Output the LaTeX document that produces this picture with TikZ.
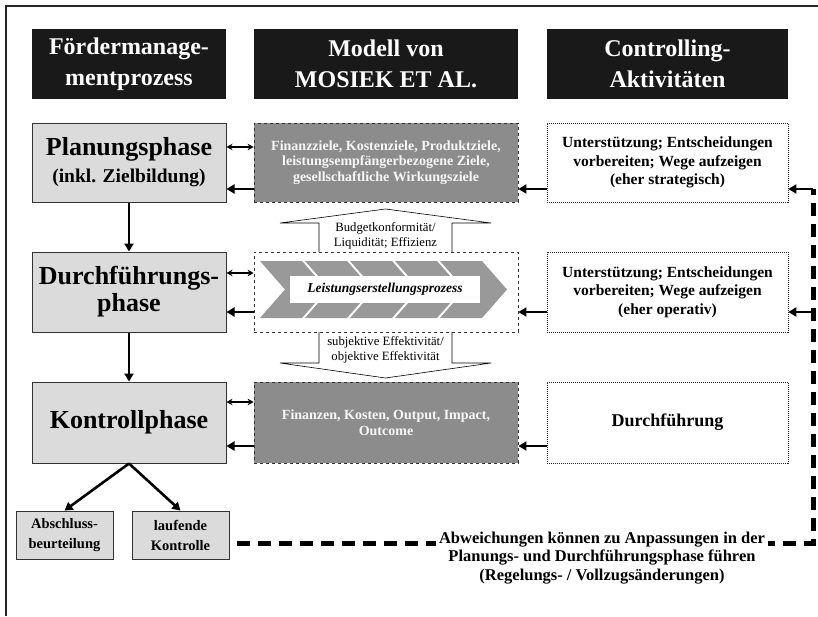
\documentclass[tikz,border=0pt]{standalone}
\usepackage{fontspec}
\setmainfont{Liberation Serif}
\usetikzlibrary{arrows.meta}
\colorlet{phasegray}{black!14}
\colorlet{modelgray}{black!45}
\colorlet{chevgray}{black!40}

\begin{document}
\begin{tikzpicture}[x=1pt,y=-1pt,
  headbox/.style={fill=black!90,text=white,align=center,inner sep=0pt,minimum height=70pt,
    font=\bfseries\fontsize{24}{31}\selectfont},
  phase/.style={draw=black!80,line width=1pt,fill=phasegray,align=center,inner sep=0pt,
    minimum width=194pt,font=\bfseries\fontsize{26}{27}\selectfont},
  model/.style={draw=black!80,dashed,line width=0.8pt,fill=modelgray,text=black!3,align=center,
    inner sep=0pt,minimum width=264pt,font=\bfseries\fontsize{14}{15.5}\selectfont},
  ctrl/.style={draw=black!85,line width=0.7pt,dash pattern=on 1pt off 1pt,align=center,
    inner sep=0pt,minimum width=241pt,font=\bfseries\fontsize{15.5}{18.5}\selectfont},
  leafbox/.style={draw=black!80,line width=0.9pt,fill=phasegray,align=center,inner sep=0pt,
    minimum width=97pt,minimum height=48pt,font=\bfseries\fontsize{14.5}{20}\selectfont},
  blockarrow/.style={draw=black,line width=0.6pt,fill=white},
  flowtext/.style={align=center,font=\fontsize{12.7}{15.5}\selectfont},
  thk/.style={line width=2.6pt,-{Triangle[length=8pt,width=9pt]}},
  twoway/.style={line width=1.3pt,{Stealth[length=6pt,width=6.5pt]}-{Stealth[length=6pt,width=6.5pt]}},
  fbline/.style={line width=5pt,dash pattern=on 13pt off 8pt}
]
\useasboundingbox (0,0) rectangle (818,616);
\draw[line width=1.3pt,black!85] (6,616) -- (6,6) -- (818,6);

% column heads
\node[headbox,minimum width=194pt] (h1) at (129,64) {Fördermanage-\\mentprozess};
\node[headbox,minimum width=264pt] (h2) at (386,64) {Modell von\\MOSIEK ET AL.};
\node[headbox,minimum width=241pt] (h3) at (667.5,64) {Controlling-\\Aktivitäten};

% block arrows in the middle column
\draw[blockarrow] (319,252) -- (319,223) -- (280,223) -- (385.5,209) -- (491,223) -- (452,223) -- (452,252);
\node[flowtext] (budget) at (385.5,236) {Budgetkonformität/\\Liquidität; Effizienz};
\draw[blockarrow] (319,332) -- (319,363) -- (280,363) -- (385.5,378) -- (491,363) -- (452,363) -- (452,332);
\node[flowtext] (effekt) at (385.5,350) {subjektive Effektivität/\\objektive Effektivität};

% Planungsphase
\node[phase,minimum height=79pt] (plan) at (129,162.5)
  {Planungsphase\\{\fontsize{19.5}{25}\selectfont(inkl. Zielbildung)}};
\node[model,minimum height=79pt] (ziel) at (386,162.5)
  {Finanzziele, Kostenziele, Produktziele,\\leistungsempfängerbezogene Ziele,\\gesellschaftliche Wirkungsziele};
\node[ctrl,minimum height=79pt] (strat) at (667.5,162.5)
  {Unterstützung; Entscheidungen\\vorbereiten; Wege aufzeigen\\(eher strategisch)};

% Durchfuehrungsphase
\node[phase,minimum height=80pt] (durch) at (129,292) {Durchführungs-\\phase};
\node[draw=black!80,dashed,line width=0.8pt,fill=white,minimum width=264pt,minimum height=80pt,
  inner sep=0pt] (leist) at (386,292) {};
\foreach \i in {0,...,4}
  \fill[chevgray] ({260+45*\i},261) -- ({302+45*\i},261) -- ({327+45*\i},289.5)
    -- ({302+45*\i},318) -- ({260+45*\i},318) -- ({285+45*\i},289.5) -- cycle;
\node[fill=white,minimum width=190pt,minimum height=27pt,inner sep=0pt,
  font=\bfseries\itshape\fontsize{13.5}{15}\selectfont] (proc) at (385,289.5) {Leistungserstellungsprozess};
\node[ctrl,minimum height=80pt] (oper) at (667.5,292)
  {Unterstützung; Entscheidungen\\vorbereiten; Wege aufzeigen\\(eher operativ)};

% Kontrollphase
\node[phase,minimum height=81pt] (kontr) at (129,422.5) {Kontrollphase};
\node[model,minimum height=81pt] (wirk) at (386,422.5) {Finanzen, Kosten, Output, Impact,\\Outcome};
\node[ctrl,minimum height=81pt,font=\bfseries\fontsize{18}{20}\selectfont] (durchf) at (667.5,422.5) {Durchführung};

\node[leafbox] (absch) at (64.5,535) {Abschluss-\\beurteilung};
\node[leafbox] (lfd) at (180.5,535) {laufende\\Kontrolle};

% phase flow
\draw[thk] (plan) -- (durch);
\draw[thk] (durch) -- (kontr);
\draw[thk] (kontr.south) -- (absch.north);
\draw[thk] (kontr.south) -- (lfd.north);

% links between the columns
\draw[twoway] ([yshift=15.5pt]plan.east) -- ([yshift=15.5pt]ziel.west);
\draw[thk] ([yshift=-26.5pt]ziel.west) -- ([yshift=-26.5pt]plan.east);
\draw[thk] ([yshift=-26.5pt]strat.west) -- ([yshift=-26.5pt]ziel.east);
\draw[twoway] ([yshift=19pt]durch.east) -- ([yshift=19pt]leist.west);
\draw[thk] ([yshift=-20pt]leist.west) -- ([yshift=-20pt]durch.east);
\draw[thk] ([yshift=-20pt]oper.west) -- ([yshift=-20pt]leist.east);
\draw[twoway] ([yshift=20.5pt]kontr.east) -- ([yshift=20.5pt]wirk.west);
\draw[thk] ([yshift=-23.5pt]wirk.west) -- ([yshift=-23.5pt]kontr.east);
\draw[thk] ([yshift=-23.5pt]durchf.west) -- ([yshift=-23.5pt]wirk.east);

% feedback
\coordinate (fb1) at (813,189);
\coordinate (fb2) at (813,312);
\coordinate (fbc) at (813,543);
\draw[fbline] ([xshift=8pt,yshift=-8pt]lfd.east) -- (fbc) -- (fb1);
\draw[thk] (fb1) -- (fb1 -| strat.east);
\draw[thk] (fb2) -- (fb2 -| oper.east);
\node[fill=white,inner sep=3pt,align=center,font=\bfseries\fontsize{16.5}{18.5}\selectfont] (abw) at (602,558)
  {Abweichungen können zu Anpassungen in der\\Planungs- und Durchführungsphase führen\\(Regelungs- / Vollzugsänderungen)};
\end{tikzpicture}
\end{document}
